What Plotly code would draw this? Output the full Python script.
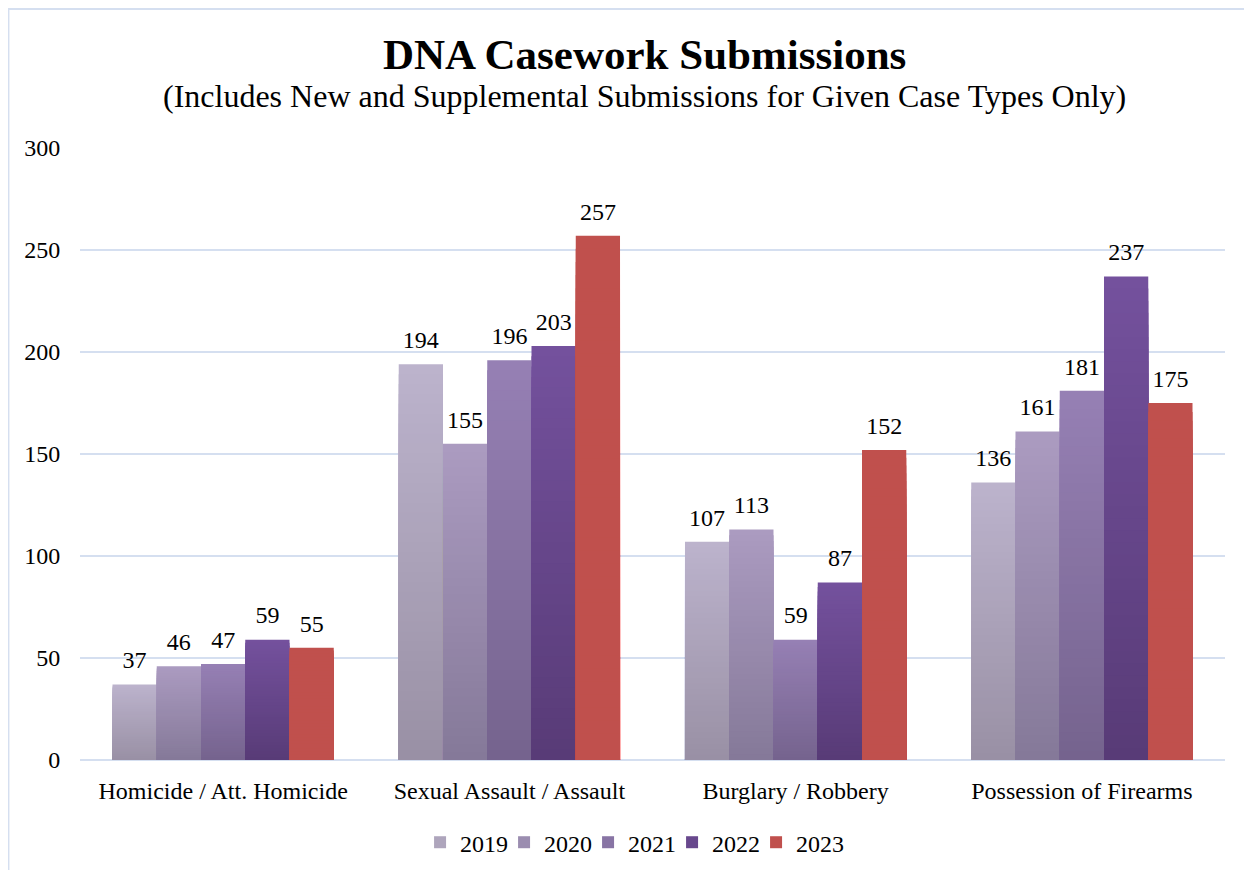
import plotly.graph_objects as go

categories = ["Homicide / Att. Homicide", "Sexual Assault / Assault", "Burglary / Robbery", "Possession of Firearms"]
years = ["2019", "2020", "2021", "2022", "2023"]
v2019 = [37, 194, 107, 136]
v2020 = [46, 155, 113, 161]
v2021 = [47, 196, 59, 181]
v2022 = [59, 203, 87, 237]
v2023 = [55, 257, 152, 175]
series = [v2019, v2020, v2021, v2022, v2023]

# (top colour, bottom colour) per series - gradient fill like the original
grad = [
    ((188, 179, 205), (153, 144, 164)),
    ((171, 155, 193), (133, 121, 152)),
    ((150, 128, 180), (117, 99, 142)),
    ((116, 81, 157), (88, 59, 119)),
    ((192, 80, 77), (192, 80, 77)),
]

FONT = '"Liberation Serif", "Times New Roman", serif'
N = 40
LABEL_PAD = 4  # small transparent spacer (axis units) so labels sit a little higher

fig = go.Figure()
for s, (name, vals) in enumerate(zip(years, series)):
    top, bot = grad[s]
    legend_col = "rgb(%d,%d,%d)" % tuple(int(bot[k] + (top[k] - bot[k]) * 0.6) for k in range(3))
    # overlapping bars, tallest first: each visible band shows one gradient step
    for i in reversed(range(N)):
        t = (i + 0.5) / N
        col = "rgb(%d,%d,%d)" % tuple(int(round(bot[k] + (top[k] - bot[k]) * t)) for k in range(3))
        fig.add_trace(go.Bar(
            x=categories,
            y=[v * (i + 1) / N for v in vals],
            offsetgroup=name,
            legendgroup=name,
            name=name,
            showlegend=False,
            marker=dict(color=col, line=dict(width=0)),
            textposition="none",
            hoverinfo="skip" if i != N - 1 else None,
        ))
    # label carrier (transparent)
    fig.add_trace(go.Bar(
        x=categories, y=[LABEL_PAD] * len(vals), base=vals,
        offsetgroup=name, legendgroup=name, name=name, showlegend=False,
        marker=dict(color="rgba(0,0,0,0)", line=dict(width=0)),
        text=[str(v) for v in vals], textposition="outside",
        textfont=dict(family=FONT, size=24, color="black"),
        cliponaxis=False, hoverinfo="skip",
    ))
    # legend entry
    fig.add_trace(go.Bar(
        x=[None], y=[None], name=name, legendgroup=name, offsetgroup=name,
        marker=dict(color=legend_col, line=dict(width=0)), showlegend=True,
    ))

# empty trailing legend entry so the last label is not clipped
fig.add_trace(go.Scatter(x=[None], y=[None], name=" ", mode="markers",
                         marker=dict(color="rgba(0,0,0,0)", size=1, line=dict(width=0)),
                         showlegend=True, hoverinfo="skip"))

fig.update_layout(
    width=1252, height=870,
    barmode="group", bargap=0.227, bargroupgap=0,
    plot_bgcolor="white", paper_bgcolor="white",
    margin=dict(l=72, r=35, t=140, b=118),
    font=dict(family=FONT, size=24, color="black"),
    showlegend=True,
    legend=dict(orientation="h", x=0.297, xanchor="left", y=-0.135, yanchor="middle",
                font=dict(family=FONT, size=24, color="black"), itemwidth=30,
                entrywidth=39, entrywidthmode="pixels", bgcolor="rgba(0,0,0,0)",
                traceorder="normal", itemclick=False),
    xaxis=dict(showgrid=False, showline=False, ticks="outside", ticklen=9, automargin=False,
               tickcolor="rgba(0,0,0,0)", tickfont=dict(family=FONT, size=24, color="black")),
    yaxis=dict(range=[0, 300], dtick=50, showgrid=True, gridcolor="#d5dff0", gridwidth=1.5,
               zeroline=True, zerolinecolor="#d5dff0", zerolinewidth=1.5, showline=False,
               ticks="outside", ticklen=14, tickcolor="rgba(0,0,0,0)", automargin=False,
               tickfont=dict(family=FONT, size=24, color="black")),
    shapes=[dict(type="rect", xref="paper", yref="paper",
                 x0=-0.0625, x1=1.2, y0=-0.5, y1=1.2271,
                 line=dict(color="#d5dff0", width=2), fillcolor="rgba(0,0,0,0)", layer="below")],
    annotations=[
        dict(text="<b>DNA Casework Submissions</b>", xref="paper", yref="paper",
             x=0.4926, y=1.1535, xanchor="center", yanchor="middle", showarrow=False,
             font=dict(family=FONT, size=43, color="black")),
        dict(text="(Includes New and Supplemental Submissions for Given Case Types Only)",
             xref="paper", yref="paper", x=0.4926, y=1.085, xanchor="center", yanchor="middle",
             showarrow=False, font=dict(family=FONT, size=32, color="black")),
    ],
)

fig.write_html("out.html")
